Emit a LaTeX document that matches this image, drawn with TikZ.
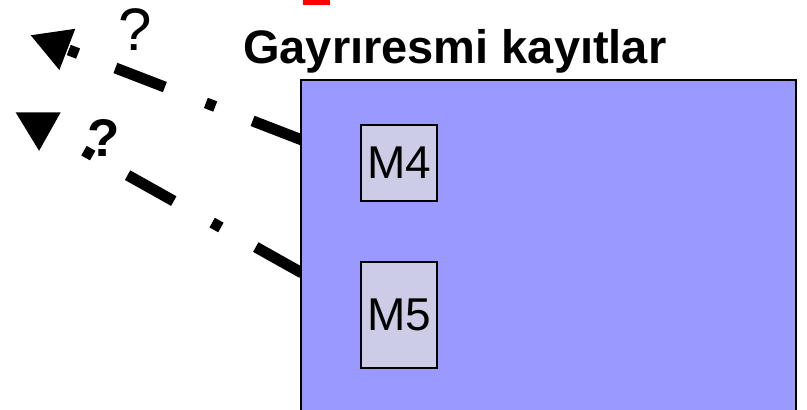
\documentclass[tikz,border=0pt]{standalone}
\usepackage{fontspec}
\setmainfont{Liberation Sans}
\usetikzlibrary{arrows.meta,calc}
\pgfdeclarelayer{bg}
\pgfsetlayers{bg,main}
\definecolor{bigblue}{RGB}{153,153,255}
\definecolor{lilac}{RGB}{204,204,230}
\tikzset{
  memo/.style={draw=black, line width=1.2pt, fill=lilac, inner sep=0pt, outer sep=0pt,
    minimum width=76pt, font=\fontsize{46}{50}\selectfont},
  dashdot/.style={line width=11pt, line cap=butt, dash pattern=on 53pt off 40pt on 10pt off 44pt,
    -{Triangle[length=40pt,width=41pt]}},
  qmark/.style={inner sep=0pt, anchor=base}
}
\begin{document}
\begin{tikzpicture}[x=1pt,y=-1pt]
\useasboundingbox (0,0) rectangle (807,410);
\clip (0,0) rectangle (807,410);
\fill[red] (303,0) rectangle (330,5);
\node[anchor=base west, inner sep=0pt, font=\bfseries\fontsize{47}{50}\selectfont] (title) at (243,63) {Gayrıresmi kayıtlar};
\node[draw=black, line width=1.5pt, fill=bigblue, anchor=north west, inner sep=0pt, outer sep=0pt,
  minimum width=495pt, minimum height=350pt] (big) at (301,80) {};
\node[memo, minimum height=76pt] (m4) at (399,163) {M4};
\node[memo, minimum height=106pt] (m5) at (399,315) {M5};
\coordinate (t1) at (30,35);
\coordinate (t2) at (15,112);
\begin{pgfonlayer}{bg}
\draw[dashdot] ($(big.north west)+(1,60)$) -- (t1);
\draw[dashdot] ($(big.north west)+(1,193)$) -- (t2);
\end{pgfonlayer}
\node[qmark, font=\fontsize{60}{64}\selectfont] (q1) at (135,50) {?};
\node[qmark, font=\bfseries\fontsize{53}{56}\selectfont] (q2) at (104,156) {?};
\end{tikzpicture}
\end{document}
